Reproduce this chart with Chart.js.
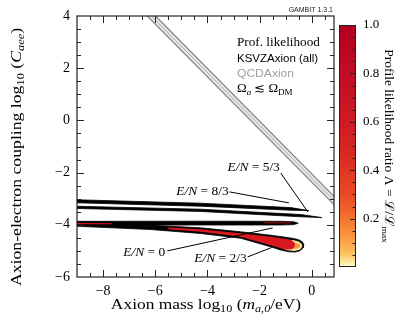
<!DOCTYPE html>
<html>
<head>
<meta charset="utf-8">
<script src="https://cdn.jsdelivr.net/npm/chart.js@4.4.1/dist/chart.umd.min.js"></script>
<style>
  html, body { margin: 0; padding: 0; background: #fff; }
  #wrap { position: relative; width: 407px; height: 331px; }
  #main { position: absolute; left: 0; top: 0; }
  #cbar { position: absolute; left: 336px; top: 0; }
</style>
</head>
<body>
<div id="wrap">
  <canvas id="main" width="407" height="331"></canvas>
  <canvas id="cbar" width="71" height="331"></canvas>
</div>
<script>
// axis ranges (log10 of mass in eV, log10 of C_aee)
const massRange = [-9, 0.85];
const couplingRange = [-6, 4];

// QCDAxion band (grey): two edges and the centre line
const qcdMass = [-6.6, 1.0];
const qcdUpper = [4.615, -3.06];
const qcdLower = [4.295, -3.38];
const qcdCentre = [4.455, -3.22];

// KSVZ contours, outlines as [mass, coupling]
const en53Contour = [[-9, -3.042], [-4.269, -3.172], [-0.808, -3.341], [-0.115, -3.456], [-0.808, -3.441], [-4.269, -3.287], [-9, -3.157]];
const en83Contour = [[-9, -3.291], [-4.269, -3.402], [-0.423, -3.605], [0.385, -3.724], [-0.423, -3.693], [-4.269, -3.487], [-9, -3.375]];
const en0Contour = [[-9, -3.866], [-4.269, -3.862], [-1.192, -3.866], [-0.692, -3.885], [-0.519, -3.939], [-0.692, -3.992], [-1.192, -4.008], [-4.269, -4.008], [-9, -4.019]];
const en0Core = [[-1.846, -3.92], [-0.81, -3.925]];
const en0Tail = [[-9, -3.93], [-7.65, -3.94], [-7.65, -3.975], [-9, -3.975]];
const en23Contour = [[-9, -3.962], [-6.192, -4.019], [-4.269, -4.115], [-2.731, -4.268], [-1.577, -4.398], [-1.0, -4.479], [-0.692, -4.525], [-0.5, -4.575], [-0.365, -4.651], [-0.308, -4.755],
  [-0.327, -4.870], [-0.423, -4.977], [-0.615, -5.042], [-0.885, -5.034], [-1.192, -4.966], [-1.577, -4.843], [-2.731, -4.513], [-4.269, -4.333], [-6.192, -4.180], [-9, -4.057]];
const en23Low = [[-1.077, -4.575], [-0.731, -4.582], [-0.5, -4.644], [-0.385, -4.736], [-0.365, -4.831], [-0.442, -4.946], [-0.654, -5.004], [-0.962, -4.977], [-1.077, -4.927]];
const en23Mid = [[-0.923, -4.670], [-0.654, -4.670], [-0.462, -4.755], [-0.442, -4.831], [-0.538, -4.908], [-0.769, -4.927], [-0.962, -4.900]];
const en23High = [[-5.5, -4.107], [-4.269, -4.172], [-2.731, -4.326], [-1.577, -4.460], [-1.0, -4.536], [-0.769, -4.590], [-0.654, -4.700], [-0.654, -4.840], [-0.769, -4.940], [-1.0, -4.958], [-1.192, -4.900], [-1.577, -4.782], [-2.731, -4.460], [-4.269, -4.268], [-5.5, -4.169]];

// E/N annotations
const enLabels = ['5/3', '8/3', '0', '2/3'];
const enLabelMass = [-2.23, -4.19, -6.42, -3.50];
const enLabelCoupling = [-1.79, -2.71, -5.04, -5.27];
const enLeaderFrom = [[-1.19, -2.02], [-3.15, -2.74], [-5.54, -5.00], [-2.46, -5.23]];
const enLeaderTo = [[-0.15, -3.51], [-0.88, -3.16], [-1.50, -4.12], [-1.54, -4.87]];

// colour bar
const cbarStops = [0, 0.02, 0.06, 0.12, 0.2, 0.3, 0.45, 0.6, 0.8, 1];
const cbarColors = ['#ffffe0', '#fee89a', '#fdbd5c', '#fa9a42', '#f47330', '#ea4a26', '#db2a22', '#cf1a24', '#c20d24', '#b1001f'];
const cbarRange = [0, 1];

const SERIF = '"Liberation Serif", "DejaVu Serif", serif';
const SANS = '"Liberation Sans", "DejaVu Sans", sans-serif';

const pts = arr => arr.map(([x, y]) => ({x, y}));
const edge = ys => qcdMass.map((x, i) => ({x, y: ys[i]}));

// text with italic ('i') and subscript ('s') pieces, sx widens it a bit (CM is wider than Times)
function drawRich(ctx, segs, x, y, size, family, align, color, sx) {
  sx = sx || 1;
  const fontOf = st => (st.includes('i') ? 'italic ' : '') + (st.includes('s') ? size * 0.7 : size) + 'px ' + family;
  let w = 0;
  for (const [t, st] of segs) { ctx.font = fontOf(st); w += ctx.measureText(t).width; }
  const x0 = align === 'center' ? x - w * sx / 2 : align === 'right' ? x - w * sx : x;
  ctx.save();
  ctx.translate(x0, y);
  ctx.scale(sx, 1);
  ctx.fillStyle = color || '#000';
  ctx.textAlign = 'left';
  ctx.textBaseline = 'alphabetic';
  let cx = 0;
  for (const [t, st] of segs) {
    ctx.font = fontOf(st);
    ctx.fillText(t, cx, st.includes('s') ? size * 0.22 : 0);
    cx += ctx.measureText(t).width;
  }
  ctx.restore();
}

function polygon(data, color, order, width) {
  return {
    data: pts(data), borderColor: color, backgroundColor: color, borderWidth: width || 0,
    fill: 'shape', pointRadius: 0, order: order
  };
}

const datasets = [
  {data: edge(qcdUpper), borderColor: '#888', borderWidth: 1.3, pointRadius: 0, fill: false, order: 60},
  {data: edge(qcdLower), borderColor: '#888', borderWidth: 1.3, pointRadius: 0, fill: '-1', backgroundColor: '#e6e6e6', order: 61},
  {data: edge(qcdCentre), borderColor: '#b0b0b0', borderWidth: 1, pointRadius: 0, fill: false, order: 55},
  polygon(en53Contour, '#000', 40, 0.8),
  polygon(en83Contour, '#000', 40, 0.8),
  polygon(en0Contour, '#000', 40, 0.8),
  polygon(en23Contour, '#000', 41, 0.8),
  polygon(en23Low, '#fbe7a0', 30),
  polygon(en23Mid, '#f59a45', 20),
  polygon(en23High, '#d8181f', 10),
  polygon(en0Tail, '#d8181f', 10),
  {data: pts(en0Core), borderColor: '#8a0a0a', borderWidth: 1.2, pointRadius: 0, fill: false, order: 9}
];
enLeaderFrom.forEach((p, i) => {
  datasets.push({data: pts([p, enLeaderTo[i]]), borderColor: '#000', borderWidth: 1, pointRadius: 0, fill: false, order: 1});
});

const tickFont = {family: SERIF, size: 14};
const minus = v => (v < 0 ? '\u2212' + Math.abs(v) : String(v));

// frame, inward ticks and the LaTeX-like texts
const mainDeco = {
  id: 'mainDeco',
  afterDraw(chart) {
    const {ctx, chartArea: a, scales: {x, y}} = chart;
    ctx.save();
    ctx.strokeStyle = '#222';
    ctx.lineWidth = 1.2;
    ctx.strokeRect(a.left, a.top, a.right - a.left, a.bottom - a.top);
    ctx.lineWidth = 1;
    ctx.beginPath();
    x.ticks.forEach(t => {
      const v = t.value;
      if (v <= x.min || v >= x.max) return;
      const p = Math.round(x.getPixelForValue(v)) + 0.5;
      const len = v % 2 === 0 ? 7 : 4;
      ctx.moveTo(p, a.bottom); ctx.lineTo(p, a.bottom - len);
      ctx.moveTo(p, a.top); ctx.lineTo(p, a.top + len);
    });
    y.ticks.forEach(t => {
      const v = t.value;
      if (v <= y.min || v >= y.max) return;
      const p = Math.round(y.getPixelForValue(v)) + 0.5;
      const len = v % 2 === 0 ? 7 : 4;
      ctx.moveTo(a.left, p); ctx.lineTo(a.left + len, p);
      ctx.moveTo(a.right, p); ctx.lineTo(a.right - len, p);
    });
    ctx.stroke();

    // E/N labels
    enLabels.forEach((lab, i) => {
      const px = x.getPixelForValue(enLabelMass[i]);
      const py = y.getPixelForValue(enLabelCoupling[i]);
      drawRich(ctx, [['E/N', 'i'], [' = ' + lab, '']], px, py + 4, 12, SERIF, 'center', '#000', 1.12);
    });

    // legend block
    drawRich(ctx, [['Prof. likelihood', '']], 237, 46, 12, SERIF, 'left', '#000', 1.1);
    drawRich(ctx, [['KSVZAxion (all)', '']], 237, 62, 11.5, SANS, 'left');
    drawRich(ctx, [['QCDAxion', '']], 237, 77, 11.5, SANS, 'left', '#a0a0a0', 1.05);
    drawRich(ctx, [['\u03a9', ''], ['a', 'is'], [' \u2272 \u03a9', ''], ['DM', 's']], 237, 92, 12, SERIF, 'left', '#000', 1.08);

    drawRich(ctx, [['GAMBIT 1.3.1', '']], 333, 12, 7, SANS, 'right', '#222');

    // axis titles
    drawRich(ctx, [['Axion mass log', ''], ['10', 's'], [' (', ''], ['m', 'i'], ['a,0', 'is'], ['/eV)', '']], 206, 309, 15, SERIF, 'center', '#000', 1.16);
    ctx.translate(15, 157);
    ctx.rotate(-Math.PI / 2);
    drawRich(ctx, [['Axion-electron coupling log', ''], ['10', 's'], [' (', ''], ['C', 'i'], ['aee', 'is'], [')', '']], 0, 5.5, 15, SERIF, 'center', '#000', 1.18);
    ctx.restore();
  }
};

new Chart(document.getElementById('main'), {
  type: 'line',
  data: {datasets: datasets},
  options: {
    responsive: false,
    animation: false,
    events: [],
    layout: {padding: {left: 0, top: 16, right: 73, bottom: 0}},
    scales: {
      x: {
        type: 'linear', min: massRange[0], max: massRange[1],
        grid: {display: false, drawTicks: false}, border: {display: false},
        ticks: {stepSize: 0.5, includeBounds: false, autoSkip: false, maxRotation: 0, padding: 6, color: '#000', font: tickFont,
          callback: v => (v % 2 === 0 ? minus(v) : '')},
        afterFit: s => { s.height = 54; }
      },
      y: {
        type: 'linear', min: couplingRange[0], max: couplingRange[1],
        grid: {display: false, drawTicks: false}, border: {display: false},
        ticks: {stepSize: 0.5, includeBounds: false, autoSkip: false, padding: 7, color: '#000', font: tickFont,
          callback: v => (v % 2 === 0 ? minus(v) : '')},
        afterFit: s => { s.width = 77; }
      }
    },
    plugins: {legend: {display: false}, tooltip: {enabled: false}}
  },
  plugins: [mainDeco]
});

// colour bar as a single floating bar with a gradient
const cbarDeco = {
  id: 'cbarDeco',
  afterDraw(chart) {
    const {ctx, chartArea: a, scales: {y}} = chart;
    ctx.save();
    ctx.strokeStyle = '#222';
    ctx.lineWidth = 1;
    ctx.strokeRect(a.left + 0.5, a.top + 0.5, a.right - a.left - 1, a.bottom - a.top - 1);
    ctx.beginPath();
    y.ticks.forEach(t => {
      const k = Math.round(t.value * 20);
      if (k <= 0 || k >= 20) return;
      const p = Math.round(y.getPixelForValue(t.value)) + 0.5;
      const len = k % 4 === 0 ? 6 : 3.5;
      ctx.moveTo(a.right, p); ctx.lineTo(a.right - len, p);
    });
    ctx.stroke();
    ctx.translate(54, 146);
    ctx.rotate(Math.PI / 2);
    drawRich(ctx, [['Profile likelihood ratio \u039b = ', ''], ['\u2112/\u2112', ''], ['max', 's']], 0, 5, 13, SERIF, 'center', '#000', 1.04);
    ctx.restore();
  }
};

new Chart(document.getElementById('cbar'), {
  type: 'bar',
  data: {
    labels: [''],
    datasets: [{
      data: [cbarRange],
      borderWidth: 0,
      barPercentage: 1,
      categoryPercentage: 1,
      backgroundColor: c => {
        const a = c.chart.chartArea;
        if (!a) return '#c00';
        const g = c.chart.ctx.createLinearGradient(0, a.bottom, 0, a.top);
        cbarStops.forEach((s, i) => g.addColorStop(s, cbarColors[i]));
        return g;
      }
    }]
  },
  options: {
    responsive: false,
    animation: false,
    events: [],
    layout: {padding: {left: 3, top: 25, bottom: 64, right: 0}},
    scales: {
      x: {display: false},
      y: {
        position: 'right', min: cbarRange[0], max: cbarRange[1],
        grid: {display: false, drawTicks: false}, border: {display: false},
        ticks: {stepSize: 0.05, autoSkip: false, padding: 7, color: '#000', font: {family: SERIF, size: 13},
          callback: v => { const k = Math.round(v * 20); return (k > 0 && k % 4 === 0) ? (k / 20).toFixed(1) : ''; }},
        afterFit: s => { s.width = 51; }
      }
    },
    plugins: {legend: {display: false}, tooltip: {enabled: false}}
  },
  plugins: [cbarDeco]
});
</script>
</body>
</html>
